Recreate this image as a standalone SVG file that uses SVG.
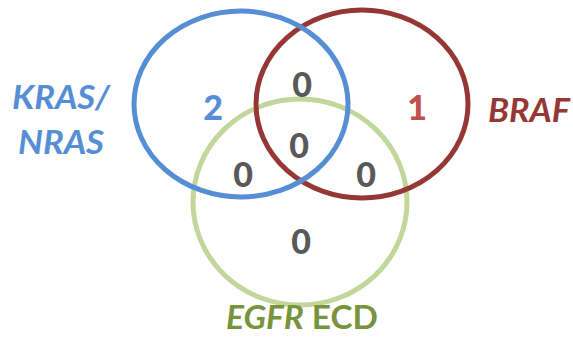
<svg xmlns="http://www.w3.org/2000/svg" width="573" height="337" viewBox="0 0 573 337">
<style>
.c{fill:none;stroke-width:5}
.n{font-family:Lato,"Open Sans",sans-serif;font-weight:900;font-size:34px;text-anchor:middle;fill:#595959}
.l{font-family:Lato,"Open Sans",sans-serif;font-weight:bold;font-style:italic;font-size:33px}
</style>
<rect width="573" height="337" fill="#fff"/>
<g id="connectors"></g>
<g id="egfr"><ellipse class="c" cx="300" cy="202" rx="107" ry="103" stroke="#C3D69B"/></g>
<g id="braf"><ellipse class="c" cx="362" cy="104" rx="106" ry="94" stroke="#953735"/></g>
<g id="kras"><ellipse class="c" cx="241" cy="104" rx="107" ry="93" stroke="#558ED5"/></g>
<g id="labels">
<text class="l" x="12" y="109" fill="#558ED5" textLength="98" lengthAdjust="spacingAndGlyphs">KRAS/</text>
<text class="l" x="18" y="154" fill="#558ED5" textLength="86" lengthAdjust="spacingAndGlyphs">NRAS</text>
<text class="l" x="488" y="122" fill="#953735" textLength="82" lengthAdjust="spacingAndGlyphs">BRAF</text>
<text class="l" x="226" y="329" fill="#77933C" font-size="32" textLength="152" lengthAdjust="spacingAndGlyphs">EGFR<tspan font-style="normal"> ECD</tspan></text>
</g>
<g id="counts">
<text class="n" x="213" y="120" style="fill:#558ED5">2</text>
<text class="n" x="417" y="120" style="fill:#C0504D">1</text>
<text class="n" x="302" y="97">0</text>
<text class="n" x="299" y="158">0</text>
<text class="n" x="243" y="187">0</text>
<text class="n" x="366" y="187">0</text>
<text class="n" x="301" y="254">0</text>
</g>
</svg>
